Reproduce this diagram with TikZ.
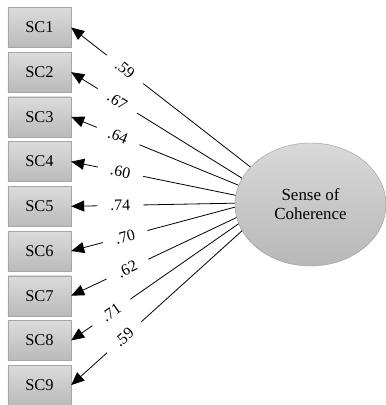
\documentclass[tikz,border=0pt]{standalone}
\usepackage{fontspec}
\setmainfont{Liberation Serif}
\usetikzlibrary{shapes.geometric,arrows.meta}
\begin{document}
\begin{tikzpicture}[x=1bp,y=-1bp,
    item/.style={draw=black!35,top color=black!14,bottom color=black!27,minimum width=63bp,minimum height=40bp,inner sep=0pt,font=\fontsize{16.5}{18}\selectfont},
    factor/.style={ellipse,draw=black!40,top color=black!15,bottom color=black!28,minimum width=151bp,minimum height=123bp,inner sep=0pt,align=center,font=\fontsize{17}{19}\selectfont},
    load/.style={{Triangle[length=13bp,width=11bp]}-,line width=0.8bp},
    gapmask/.style={fill=white,sloped,minimum width=46bp,minimum height=6bp,inner sep=0pt},
    coef/.style={sloped,inner sep=0.5bp,font=\fontsize{16}{18}\selectfont}]
    \useasboundingbox (0,0) rectangle (386,405);
    \node[factor] (soc) at (310.5,204.5) {Sense of\\Coherence};
    % indicators
    \foreach \i in {1,...,9}
      \node[item] (sc\i) at (39.5,{27.5+44.7*(\i-1)}) {SC\i};
    % loadings
    \foreach \i/\a/\p/\v in {1/148/.30/.59,2/159/.27/.67,3/165/.28/.64,4/173.5/.30/.60,5/179/.30/.74,
                             6/182/.33/.70,7/190/.34/.62,8/195.5/.24/.71,9/201/.31/.59}
      \draw[load] (sc\i.east) -- node[gapmask,pos=\p] {} node[coef,pos=\p] {\v} (soc.\a);
\end{tikzpicture}
\end{document}
